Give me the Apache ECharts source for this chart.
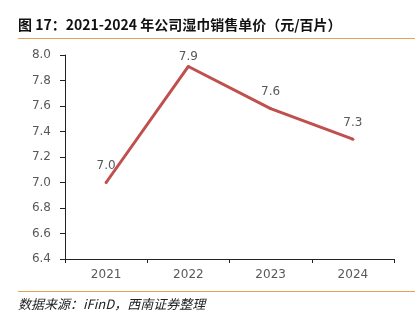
<!DOCTYPE html>
<html><head><meta charset="utf-8">
<script src="https://cdn.jsdelivr.net/npm/echarts@6/dist/echarts.min.js"></script>
<style>html,body{margin:0;padding:0;background:#fff}#c{width:420px;height:326px}</style>
</head><body><div id="c"></div>
<script>
const categories = ['2021', '2022', '2023', '2024'];
const prices = [7.0, 7.91, 7.58, 7.34];
const yTicks = [6.4, 8.0, 0.2];
const titleText = '图 17：2021-2024 年公司湿巾销售单价（元/百片）';
const sourceText = '数据来源：iFinD，西南证券整理';

const seriesData = prices.map((v, i) => i === 1 ? { value: v, label: { distance: 2 } } : v);

const chart = echarts.init(document.getElementById('c'));
chart.setOption({
  backgroundColor: '#fff',
  animation: false,
  graphic: [
    { type: 'text', left: 18, top: 18, style: { text: titleText, font: 'bold 14px "Noto Sans CJK SC", sans-serif', fill: '#111' } },
    { type: 'line', shape: { x1: 18, y1: 38.5, x2: 415, y2: 38.5 }, style: { stroke: '#e3a45a', lineWidth: 1.2 } },
    { type: 'line', shape: { x1: 18, y1: 291.5, x2: 415, y2: 291.5 }, style: { stroke: '#e3a45a', lineWidth: 1.2 } },
    { type: 'text', left: 18, top: 298, style: { text: sourceText, font: 'italic 13px "Noto Sans CJK SC", sans-serif', fill: '#222' } }
  ],
  grid: { left: 65, right: 26, top: 55, bottom: 67 },
  xAxis: {
    type: 'category', data: categories, boundaryGap: true,
    axisLine: { lineStyle: { color: '#222', width: 1 } },
    axisTick: { show: true, length: 4, lineStyle: { color: '#222' } },
    axisLabel: { color: '#595959', fontSize: 12, margin: 10, fontFamily: '"DejaVu Sans", sans-serif' }
  },
  yAxis: {
    type: 'value', min: yTicks[0], max: yTicks[1], interval: yTicks[2],
    axisLine: { show: true, lineStyle: { color: '#222', width: 1 } },
    axisTick: { show: true, length: 5, lineStyle: { color: '#222' } },
    splitLine: { show: false },
    axisLabel: { color: '#595959', fontSize: 12, margin: 14, fontFamily: '"DejaVu Sans", sans-serif',
      formatter: v => v.toFixed(1) }
  },
  series: [{
    type: 'line', data: seriesData, symbol: 'circle', symbolSize: 3, showSymbol: true,
    itemStyle: { color: '#c0504d', borderWidth: 0 },
    lineStyle: { color: '#c0504d', width: 3 },
    label: { show: true, position: 'top', distance: 9, color: '#595959', fontSize: 12,
      fontFamily: '"DejaVu Sans", sans-serif', formatter: p => Number(p.value).toFixed(1) }
  }]
});
</script></body></html>
